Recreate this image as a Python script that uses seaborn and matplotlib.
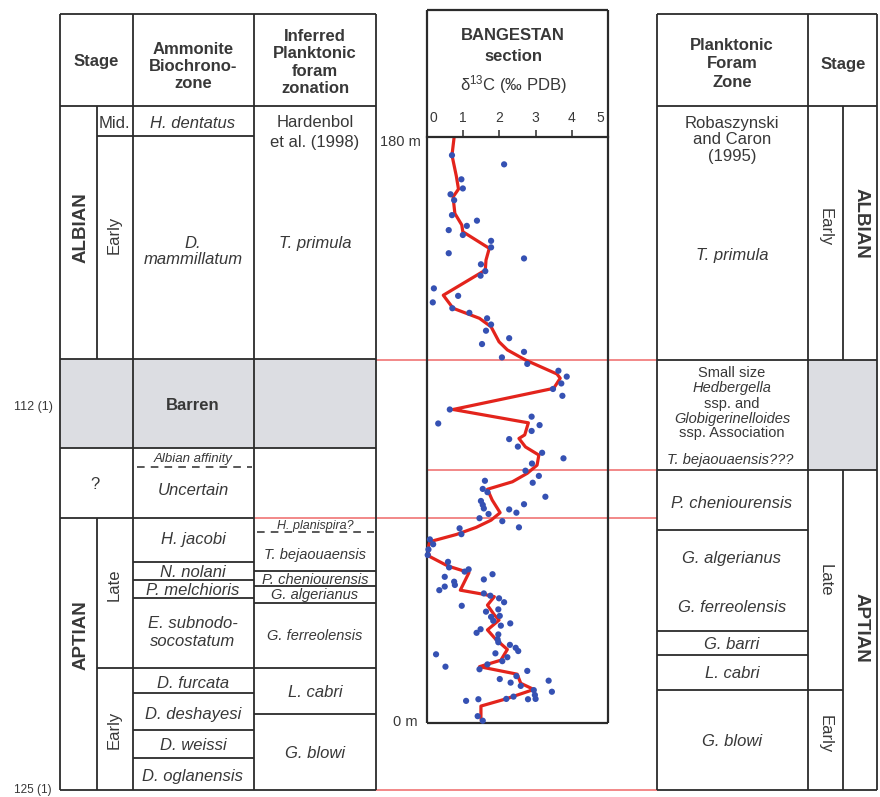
import matplotlib
matplotlib.use('Agg')
import matplotlib.pyplot as plt
import matplotlib.transforms as mtransforms
from matplotlib.patches import Rectangle
import seaborn as sns
import pandas as pd

sns.set_theme(style='white')
plt.rcParams['font.family'] = ['Liberation Sans', 'DejaVu Sans']
plt.rcParams['mathtext.fontset'] = 'custom'
plt.rcParams['mathtext.rm'] = 'Liberation Sans'
plt.rcParams['mathtext.it'] = 'Liberation Sans:italic'

# ---------------- data ----------------
sample_depth_m = [174.4, 171.6, 167.0, 164.2, 162.4, 160.6, 156.0, 154.3, 152.7, 151.4,
                  149.9, 148.1, 146.1, 144.3, 142.7, 140.9, 138.8, 137.4,
                  133.5, 131.2, 129.2, 127.4, 126.0, 124.3, 122.4, 120.5, 118.2, 116.4,
                  114.0, 112.3, 110.3, 108.2, 106.4, 104.3, 102.6, 100.5, 96.3, 94.1,
                  92.0, 91.5, 89.7, 87.2, 84.9,
                  83.0, 81.3, 79.7, 77.5, 75.9, 73.8, 74.4, 71.9, 70.9, 69.5, 68.2,
                  67.0, 67.2, 65.9, 65.6, 64.6, 64.2, 62.9, 62.0, 60.1, 59.8, 58.0,
                  56.4, 54.9, 53.3, 51.6, 49.5, 47.8, 47.2, 46.5, 44.9, 45.7, 44.1,
                  43.4, 42.4, 41.9, 40.8, 39.8, 39.1, 38.3, 37.1, 36.0, 34.2, 34.9,
                  32.6, 32.9,
                  31.4, 30.6, 29.9, 28.8, 27.7, 27.2, 25.7, 24.8, 24.0, 23.1, 22.1,
                  21.1, 21.4, 20.2, 19.0, 18.0, 17.3, 16.5, 16.0, 14.4, 13.5, 13.0,
                  12.4, 11.4, 10.1, 9.6, 8.6, 8.1, 7.4, 7.3, 7.4, 6.8, 7.3, 2.1, 0.7]
sample_d13c = [0.69, 2.13, 0.95, 0.99, 0.65, 0.75, 0.69, 1.38, 1.10, 0.60,
               0.99, 1.77, 1.77, 0.60, 2.68, 1.49, 1.61, 1.48,
               0.19, 0.86, 0.16, 0.70, 1.17, 1.66, 1.77, 1.63, 2.27, 1.52,
               2.68, 2.07, 2.77, 3.63, 3.86, 3.71, 3.48, 3.74, 0.63, 2.89,
               0.31, 3.11, 2.89, 2.27, 2.51,
               3.18, 3.77, 2.90, 2.72, 3.09, 2.92, 1.60, 1.54, 1.67, 3.27, 1.49,
               1.54, 2.68, 1.57, 2.27, 2.47, 1.70, 1.45, 2.08, 2.54, 0.90, 0.95,
               0.08, 0.17, 0.04, 0.02, 0.58, 0.61, 1.15, 1.04, 0.49, 1.81, 1.57,
               0.75, 0.77, 0.49, 0.34, 1.57, 1.75, 1.99, 2.13, 0.96, 1.63, 1.97,
               1.77, 2.01,
               1.83, 2.30, 2.04, 1.48, 1.37, 1.97, 1.95, 1.97, 2.29, 2.45, 2.52,
               0.25, 1.89, 2.22, 2.08, 1.67, 0.51, 1.45, 2.77, 2.47, 2.01, 3.36,
               2.31, 2.59, 2.95, 3.45, 2.98, 2.39, 2.19, 2.79, 3.00, 1.08, 1.42, 1.40, 1.54]

curve_depth_m = [180.0, 174.4, 168.0, 164.0, 161.6, 156.5, 153.0, 150.9, 145.8, 142.2,
                 139.1, 131.4, 127.4, 124.3, 121.7, 117.1, 114.6, 111.5, 107.2, 105.9,
                 102.8, 96.3, 92.2, 88.5, 87.4, 84.8, 82.3, 79.2, 76.7, 74.1,
                 71.8, 68.5, 64.6, 62.3, 60.1, 57.9, 55.7, 53.1, 51.1, 48.2,
                 46.2, 40.8, 39.5, 38.8, 36.2, 33.2, 31.6, 28.6, 25.7, 22.6,
                 19.3, 17.3, 15.0, 12.2, 10.3, 7.4, 5.2, 1.4, 0.2]
curve_d13c = [0.75, 0.69, 0.81, 0.87, 0.72, 0.77, 0.96, 0.99, 1.72, 1.63,
              1.61, 0.45, 0.72, 1.45, 1.77, 1.99, 2.22, 2.72, 3.59, 3.68,
              3.50, 0.72, 2.80, 2.70, 2.54, 2.72, 3.09, 3.04, 2.77, 2.36,
              1.67, 1.80, 2.02, 1.77, 1.36, 0.81, 0.08, 0.01, 0.08, 0.58,
              1.16, 0.92, 1.58, 1.86, 1.67, 1.86, 1.99, 1.67, 1.90, 2.22,
              2.04, 1.45, 2.49, 2.59, 2.95, 2.18, 1.49, 1.49, 1.52]

xtick_values = [0, 1, 2, 3, 4, 5]
xtick_labels = ['0', '1', '2', '3', '4', '5']
depth_labels = ['180 m', '0 m']
age_labels = ['112 (1)', '125 (1)']

# ---------------- figure ----------------
W, H = 880, 797
fig = plt.figure(figsize=(W / 100, H / 100), dpi=100)
fig.patch.set_facecolor('white')
ax = fig.add_axes([0, 0, 1, 1])
ax.set_xlim(0, W)
ax.set_ylim(H, 0)
ax.axis('off')

LC = '#2b2b2b'
TC = '#383838'
RC = '#f07474'
GRAY = '#dcdde2'
LW = 1.3
FS = 12


def hline(y, x0, x1, color=LC, lw=LW, ls='-', z=3):
    ax.plot([x0, x1], [y, y], color=color, lw=lw, ls=ls, solid_capstyle='butt', zorder=z)


def vline(x, y0, y1, color=LC, lw=LW, z=3):
    ax.plot([x, x], [y0, y1], color=color, lw=lw, solid_capstyle='butt', zorder=z)


def txt(x, y, s, size=FS, style='normal', weight='normal', rot=0, lsp=17, ha='center', color=TC):
    lines = s.split('\n')
    n = len(lines)
    for i, line in enumerate(lines):
        yy = y + (i - (n - 1) / 2) * lsp
        ax.text(x, yy, line, ha=ha, va='center_baseline' if rot == 0 else 'center',
                fontsize=size, fontstyle=style, fontweight=weight, rotation=rot,
                color=color, zorder=5)


# gray fills
ax.add_patch(Rectangle((60, 359), 316, 89, facecolor=GRAY, edgecolor='none', zorder=1))
ax.add_patch(Rectangle((808, 360), 69, 110, facecolor=GRAY, edgecolor='none', zorder=1))

# red correlation lines
for y, x0, x1 in [(360, 376, 657), (470, 427, 657), (518, 254, 657), (790, 376, 657)]:
    hline(y, x0, x1, color=RC, lw=1.2, z=2)

# ---- left table ----
hline(14, 60, 376); hline(790, 60, 376)
vline(60, 14, 790); vline(376, 14, 790)
hline(106, 60, 376)
vline(133, 14, 790); vline(254, 14, 790)
vline(97, 106, 359); vline(97, 518, 790)
hline(359, 60, 376); hline(448, 60, 376); hline(518, 60, 254)
hline(136, 97, 254)
for y in [562, 580, 598, 693, 730, 758]:
    hline(y, 133, 254)
hline(668, 97, 376)
for y in [571, 586, 603, 714]:
    hline(y, 254, 376)
hline(467, 137, 252, lw=1.1, ls=(0, (5, 4)))
hline(532, 257, 374, lw=1.1, ls=(0, (5, 4)))

txt(96, 60, 'Stage', weight='bold')
txt(193, 65, 'Ammonite\nBiochrono-\nzone', weight='bold')
txt(315, 61, 'Inferred\nPlanktonic\nforam\nzonation', weight='bold', lsp=17.3)
txt(114, 122, 'Mid.')
txt(193, 122, 'H. dentatus', style='italic')
txt(315, 131, 'Hardenbol\net al. (1998)', lsp=20)
txt(81, 228, 'ALBIAN', size=13.5, weight='bold', rot=90)
txt(114, 235, 'Early', rot=90)
txt(193, 250, 'D.\nmammillatum', style='italic')
txt(315, 242, 'T. primula', style='italic')
txt(193, 404, 'Barren', weight='bold')
txt(95, 483, '?')
txt(193, 457, 'Albian affinity', size=9.5, style='italic')
txt(193, 489, 'Uncertain', style='italic')
txt(81, 635, 'APTIAN', size=13.5, weight='bold', rot=90)
txt(114, 585, 'Late', rot=90)
txt(114, 730, 'Early', rot=90)
amm_names = ['H. jacobi', 'N. nolani', 'P. melchioris', 'E. subnodo-\nsocostatum',
             'D. furcata', 'D. deshayesi', 'D. weissi', 'D. oglanensis']
amm_y = [538, 571, 589, 631, 682, 713, 744, 775]
for s, y in zip(amm_names, amm_y):
    txt(193, y, s, style='italic')
txt(315, 525, 'H. planispira?', size=9, style='italic')
inf_names = ['T. bejaouaensis', 'P. cheniourensis', 'G. algerianus']
for s, y in zip(inf_names, [553, 578, 594]):
    txt(315, y, s, size=10.5, style='italic')
txt(315, 635, 'G. ferreolensis', size=10.5, style='italic')
txt(315, 691, 'L. cabri', style='italic')
txt(315, 752, 'G. blowi', style='italic')

txt(33, 405, age_labels[0], size=9)
txt(33, 788, age_labels[1], size=8.5)

# ---- centre panel frame ----
vline(427, 10, 723, lw=1.6); vline(608, 10, 723, lw=1.6)
hline(10, 427, 608, lw=1.6); hline(723, 427, 608, lw=1.6)
txt(513, 34, 'BANGESTAN', weight='bold')
txt(513, 55, 'section', weight='bold')
txt(513, 82, r'δ$^{13}$C (‰ PDB)')
txt(421, 140, depth_labels[0], size=10.5, ha='right')
txt(418, 721, depth_labels[1], size=10.5, ha='right')

# ---- right table ----
hline(14, 657, 877); hline(790, 657, 877)
vline(657, 14, 790); vline(877, 14, 790)
hline(106, 657, 877)
vline(808, 14, 790)
vline(843, 106, 360); vline(843, 470, 790)
hline(360, 657, 877); hline(470, 657, 877)
for y in [530, 631, 655]:
    hline(y, 657, 808)
hline(690, 657, 843)

txt(732, 62, 'Planktonic\nForam\nZone', weight='bold', lsp=18.5)
txt(843, 63, 'Stage', weight='bold')
txt(732, 138, 'Robaszynski\nand Caron\n(1995)', lsp=16.5)
txt(732, 254, 'T. primula', style='italic')
txt(825, 227, 'Early', rot=270)
txt(861, 223, 'ALBIAN', size=13.5, weight='bold', rot=270)
txt(732, 371, 'Small size', size=10.5)
txt(732, 386, 'Hedbergella', size=10.5, style='italic')
txt(732, 402, 'ssp. and', size=10.5)
txt(732, 417, 'Globigerinelloides', size=10.5, style='italic')
txt(732, 431, 'ssp. Association', size=10.5)
txt(730, 458, 'T. bejaouaensis???', size=10.5, style='italic')
pf_names = ['P. cheniourensis', 'G. algerianus', 'G. ferreolensis', 'G. barri', 'L. cabri', 'G. blowi']
pf_y = [502, 557, 606, 643, 672, 740]
for s, y in zip(pf_names, pf_y):
    txt(732, y, s, style='italic')
txt(825, 580, 'Late', rot=270)
txt(861, 628, 'APTIAN', size=13.5, weight='bold', rot=270)
txt(825, 734, 'Early', rot=270)

# ---------------- isotope plot (seaborn) ----------------
ax2 = fig.add_axes([427 / W, (H - 723) / H, 181 / W, 586 / H])
ax2.set_facecolor('none')
df_pts = pd.DataFrame({'depth': sample_depth_m, 'd13c': sample_d13c})
df_curve = pd.DataFrame({'depth': curve_depth_m, 'd13c': curve_d13c})
sns.lineplot(data=df_curve, x='d13c', y='depth', sort=False, estimator=None,
             color='#e3241c', lw=2.3, ax=ax2, zorder=2,
             solid_joinstyle='round', solid_capstyle='round')
sns.scatterplot(data=df_pts, x='d13c', y='depth', color='#3551b3', s=20,
                edgecolor='none', ax=ax2, zorder=3, clip_on=False)
ax2.set_xlim(0, 5)
ax2.set_ylim(0, 180)
ax2.set_xlabel('')
ax2.set_ylabel('')
ax2.set_yticks([])
ax2.xaxis.tick_top()
ax2.set_xticks(xtick_values)
ax2.set_xticklabels(xtick_labels)
ax2.tick_params(axis='x', which='both', top=True, bottom=False, labeltop=True, labelbottom=False,
                direction='out', length=5, width=1.1, pad=4, labelsize=10,
                colors=LC, labelcolor=TC)
for name, sp in ax2.spines.items():
    sp.set_visible(name == 'top')
ax2.spines['top'].set_linewidth(1.6)
ax2.spines['top'].set_color(LC)
labs = ax2.get_xticklabels()
labs[0].set_transform(labs[0].get_transform() + mtransforms.ScaledTranslation(6 / 100, 0, fig.dpi_scale_trans))
labs[-1].set_transform(labs[-1].get_transform() + mtransforms.ScaledTranslation(-8 / 100, 0, fig.dpi_scale_trans))

fig.savefig('out.png', dpi=100, facecolor='white')
